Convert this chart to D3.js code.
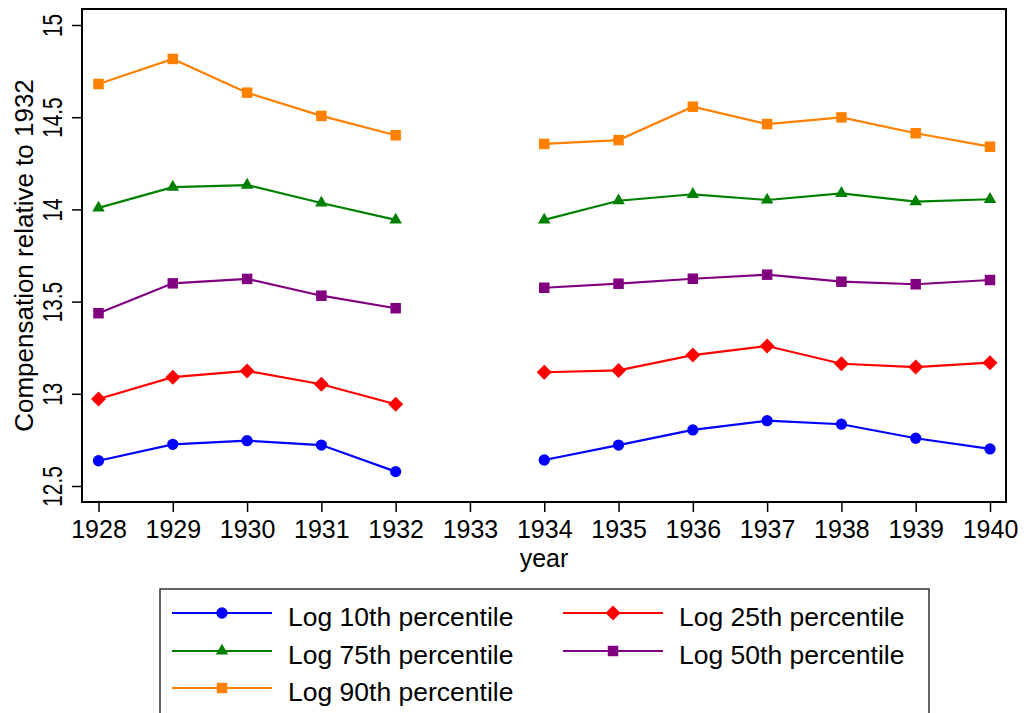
<!DOCTYPE html>
<html>
<head>
<meta charset="utf-8">
<script src="https://cdn.jsdelivr.net/npm/d3@7"></script>
<style>
  html, body { margin: 0; padding: 0; background: #fff; }
  svg { display: block; font-family: "Liberation Sans", Arial, Helvetica, sans-serif; }
</style>
</head>
<body>
<svg id="chart" width="1026" height="713"></svg>
<script>
// Years on the x axis (no observation for 1933)
const years = [1928, 1929, 1930, 1931, 1932, 1933, 1934, 1935, 1936, 1937, 1938, 1939, 1940];

// Log compensation by percentile
const p10 = [12.637, 12.726, 12.746, 12.722, 12.578, null, 12.641, 12.722, 12.804, 12.854, 12.835, 12.759, 12.701];
const p25 = [12.972, 13.090, 13.124, 13.052, 12.943, null, 13.117, 13.127, 13.210, 13.259, 13.163, 13.145, 13.169];
const p50 = [13.437, 13.599, 13.623, 13.532, 13.464, null, 13.575, 13.597, 13.624, 13.646, 13.608, 13.594, 13.617];
const p75 = [14.008, 14.121, 14.132, 14.035, 13.943, null, 13.943, 14.047, 14.082, 14.051, 14.087, 14.042, 14.055];
const p90 = [14.680, 14.816, 14.633, 14.507, 14.402, null, 14.355, 14.376, 14.557, 14.463, 14.499, 14.413, 14.340];

const yTicks = [12.5, 13, 13.5, 14, 14.5, 15];
const xTicks = years;

const series = [
  { name: "Log 10th percentile", values: p10, color: "#0000ff", symbol: "circle" },
  { name: "Log 25th percentile", values: p25, color: "#ff0000", symbol: "diamond" },
  { name: "Log 75th percentile", values: p75, color: "#008000", symbol: "triangle" },
  { name: "Log 50th percentile", values: p50, color: "#800080", symbol: "square" },
  { name: "Log 90th percentile", values: p90, color: "#ff8000", symbol: "square" }
];

const svg = d3.select("#chart");
const plot = { left: 82, right: 1006, top: 9, bottom: 502 };

const x = d3.scaleLinear().domain([1928, 1940]).range([98.5, 990]);
const y = d3.scaleLinear().domain([12.5, 15]).range([486, 25]);

// marker shapes
function markerPath(kind) {
  if (kind === "circle") return d3.symbol().type(d3.symbolCircle).size(100)();
  if (kind === "triangle") return d3.symbol().type(d3.symbolTriangle).size(68)();
  if (kind === "square") return d3.symbol().type(d3.symbolSquare).size(110)();
  // diamond: square rotated 45 degrees
  const h = 7.5;
  return `M0,${-h}L${h},0L0,${h}L${-h},0Z`;
}

// series lines and markers
const line = d3.line()
  .defined(d => d.v != null)
  .x(d => x(d.year))
  .y(d => y(d.v));

series.forEach(s => {
  const pts = years.map((yr, i) => ({ year: yr, v: s.values[i] }));
  svg.append("path")
    .datum(pts)
    .attr("fill", "none")
    .attr("stroke", s.color)
    .attr("stroke-width", 2.2)
    .attr("d", line);
  svg.append("g")
    .selectAll("path")
    .data(pts.filter(d => d.v != null))
    .join("path")
    .attr("transform", d => `translate(${x(d.year)},${y(d.v)})`)
    .attr("d", markerPath(s.symbol))
    .attr("fill", s.color);
});

// frame
svg.append("rect")
  .attr("x", plot.left)
  .attr("y", plot.top)
  .attr("width", plot.right - plot.left)
  .attr("height", plot.bottom - plot.top)
  .attr("fill", "none")
  .attr("stroke", "#000")
  .attr("stroke-width", 2);

// x axis
const xAxis = d3.axisBottom(x)
  .tickValues(xTicks)
  .tickFormat(d3.format("d"))
  .tickSize(10)
  .tickPadding(8);
const gx = svg.append("g")
  .attr("transform", `translate(0,${plot.bottom})`)
  .call(xAxis);
gx.select(".domain").remove();
gx.selectAll(".tick line").attr("stroke", "#000").attr("stroke-width", 1.5);
gx.selectAll(".tick text")
  .attr("font-size", 25)
  .attr("fill", "#000")
  .attr("font-family", "Liberation Sans, Arial, sans-serif");

// y axis
const yAxis = d3.axisLeft(y)
  .tickValues(yTicks)
  .tickFormat(d => d3.format("")(d))
  .tickSize(10)
  .tickPadding(0);
const gy = svg.append("g")
  .attr("transform", `translate(${plot.left},0)`)
  .call(yAxis);
gy.select(".domain").remove();
gy.selectAll(".tick line").attr("stroke", "#000").attr("stroke-width", 1.5);
gy.selectAll(".tick text")
  .attr("x", null).attr("dy", null)
  .attr("text-anchor", "middle")
  .attr("font-size", 28)
  .attr("fill", "#000")
  .attr("font-family", "Liberation Sans, Arial, sans-serif")
  .attr("transform", "translate(-20,0) rotate(-90) scale(0.74,1)");

// axis titles
svg.append("text")
  .attr("x", (plot.left + plot.right) / 2)
  .attr("y", 567)
  .attr("text-anchor", "middle")
  .attr("font-size", 25)
  .text("year");

svg.append("text")
  .attr("transform", `translate(33,${(plot.top + plot.bottom) / 2}) rotate(-90)`)
  .attr("text-anchor", "middle")
  .attr("font-size", 26)
  .text("Compensation relative to 1932");

// legend
const legend = svg.append("g");
legend.append("rect")
  .attr("x", 160).attr("y", 589)
  .attr("width", 769).attr("height", 140)
  .attr("fill", "#fff")
  .attr("stroke", "#333")
  .attr("stroke-width", 1.5);

const cols = [172, 563];
const rows = [613, 651, 688];
series.forEach((s, i) => {
  const cx = cols[i % 2];
  const cy = rows[Math.floor(i / 2)];
  const g = legend.append("g");
  g.append("line")
    .attr("x1", cx).attr("x2", cx + 100)
    .attr("y1", cy).attr("y2", cy)
    .attr("stroke", s.color)
    .attr("stroke-width", 2.2);
  g.append("path")
    .attr("transform", `translate(${cx + 50},${cy})`)
    .attr("d", markerPath(s.symbol))
    .attr("fill", s.color);
  g.append("text")
    .attr("x", cx + 116)
    .attr("y", cy + 12.5)
    .attr("font-size", 26.5)
    .attr("fill", "#000")
    .text(s.name);
});
</script>
</body>
</html>
